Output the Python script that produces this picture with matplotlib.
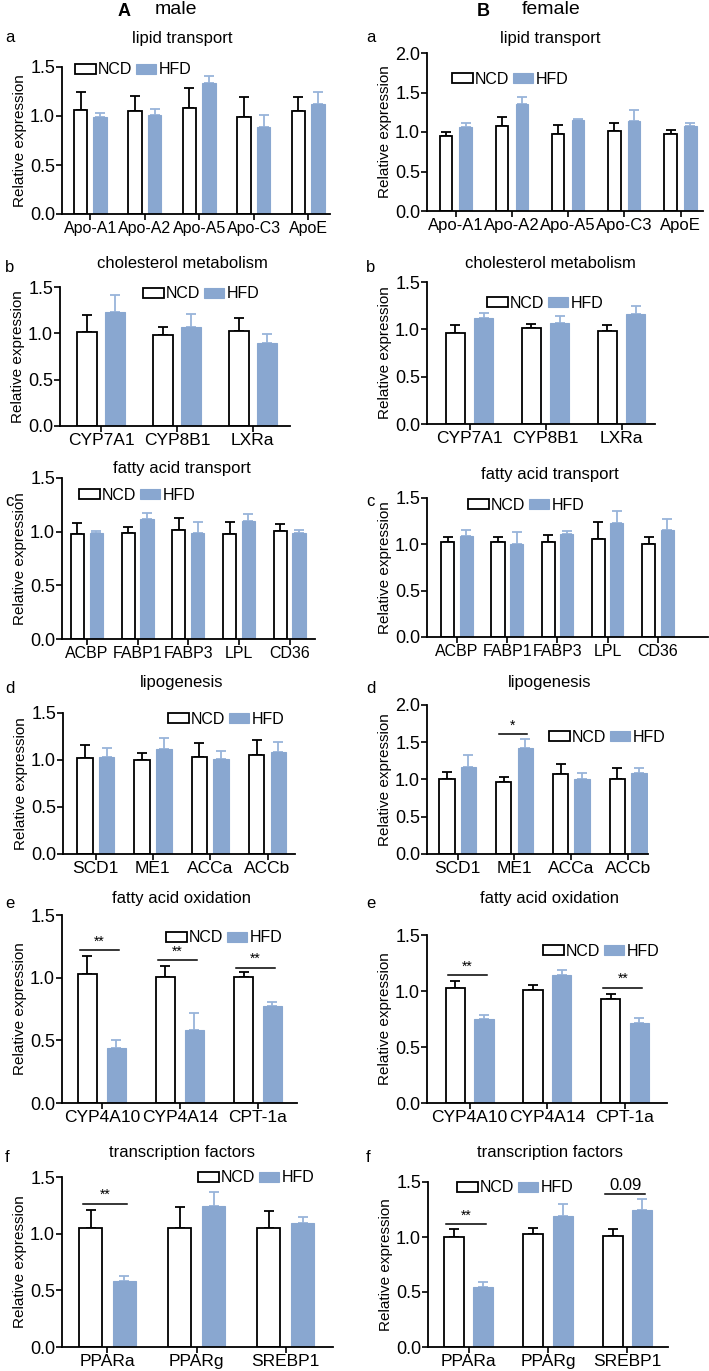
import numpy as np
import matplotlib.pyplot as plt
from matplotlib.ticker import MultipleLocator, FormatStrFormatter

plt.rcParams['font.family'] = ['Liberation Sans', 'DejaVu Sans']

W, H = 709, 1371
fig = plt.figure(figsize=(W / 100, H / 100), dpi=100)

hfd_color = '#89a7d0'

# ---------------- male ----------------
m_a_genes = ['Apo-A1', 'Apo-A2', 'Apo-A5', 'Apo-C3', 'ApoE']
m_a_ncd = [1.06, 1.05, 1.08, 0.99, 1.05]
m_a_ncd_err = [0.18, 0.15, 0.21, 0.20, 0.14]
m_a_hfd = [0.99, 1.01, 1.34, 0.89, 1.12]
m_a_hfd_err = [0.04, 0.06, 0.07, 0.12, 0.12]

m_b_genes = ['CYP7A1', 'CYP8B1', 'LXRa']
m_b_ncd = [1.01, 0.98, 1.03]
m_b_ncd_err = [0.19, 0.09, 0.14]
m_b_hfd = [1.23, 1.07, 0.90]
m_b_hfd_err = [0.18, 0.14, 0.09]

m_c_genes = ['ACBP', 'FABP1', 'FABP3', 'LPL', 'CD36']
m_c_ncd = [0.975, 0.985, 1.02, 0.98, 1.01]
m_c_ncd_err = [0.105, 0.055, 0.11, 0.11, 0.06]
m_c_hfd = [0.99, 1.12, 0.99, 1.10, 0.985]
m_c_hfd_err = [0.02, 0.05, 0.10, 0.06, 0.035]

m_d_genes = ['SCD1', 'ME1', 'ACCa', 'ACCb']
m_d_ncd = [1.025, 1.00, 1.03, 1.05]
m_d_ncd_err = [0.13, 0.07, 0.15, 0.165]
m_d_hfd = [1.035, 1.12, 1.01, 1.09]
m_d_hfd_err = [0.095, 0.11, 0.09, 0.10]

m_e_genes = ['CYP4A10', 'CYP4A14', 'CPT-1a']
m_e_ncd = [1.03, 1.005, 1.005]
m_e_ncd_err = [0.14, 0.085, 0.04]
m_e_hfd = [0.435, 0.58, 0.77]
m_e_hfd_err = [0.065, 0.135, 0.035]
m_e_sig = [(0, 1.22, '**'), (1, 1.14, '**'), (2, 1.08, '**')]

m_f_genes = ['PPARa', 'PPARg', 'SREBP1']
m_f_ncd = [1.05, 1.05, 1.05]
m_f_ncd_err = [0.155, 0.185, 0.15]
m_f_hfd = [0.58, 1.245, 1.095]
m_f_hfd_err = [0.05, 0.12, 0.055]
m_f_sig = [(0, 1.265, '**')]

# ---------------- female ----------------
f_a_ncd = [0.95, 1.07, 0.98, 1.01, 0.97]
f_a_ncd_err = [0.05, 0.12, 0.11, 0.10, 0.06]
f_a_hfd = [1.06, 1.35, 1.15, 1.14, 1.07]
f_a_hfd_err = [0.05, 0.09, 0.02, 0.14, 0.05]

f_b_ncd = [0.96, 1.01, 0.98]
f_b_ncd_err = [0.09, 0.05, 0.07]
f_b_hfd = [1.12, 1.07, 1.16]
f_b_hfd_err = [0.05, 0.07, 0.09]

f_c_ncd = [1.02, 1.02, 1.02, 1.06, 1.00]
f_c_ncd_err = [0.06, 0.06, 0.08, 0.18, 0.08]
f_c_hfd = [1.09, 1.00, 1.11, 1.23, 1.15]
f_c_hfd_err = [0.06, 0.13, 0.03, 0.13, 0.12]

f_d_ncd = [1.01, 0.97, 1.08, 1.00]
f_d_ncd_err = [0.09, 0.06, 0.125, 0.15]
f_d_hfd = [1.165, 1.42, 1.00, 1.09]
f_d_hfd_err = [0.165, 0.13, 0.09, 0.06]
f_d_sig = [(1, 1.61, '*')]

f_e_ncd = [1.03, 1.005, 0.925]
f_e_ncd_err = [0.06, 0.045, 0.045]
f_e_hfd = [0.75, 1.14, 0.715]
f_e_hfd_err = [0.04, 0.05, 0.045]
f_e_sig = [(0, 1.14, '**'), (2, 1.03, '**')]

f_f_ncd = [1.00, 1.03, 1.01]
f_f_ncd_err = [0.075, 0.05, 0.065]
f_f_hfd = [0.547, 1.19, 1.25]
f_f_hfd_err = [0.043, 0.11, 0.10]
f_f_sig = [(0, 1.12, '**'), (2, 1.39, '0.09')]

titles = ['lipid transport', 'cholesterol metabolism', 'fatty acid transport',
          'lipogenesis', 'fatty acid oxidation', 'transcription factors']
letters = ['a', 'b', 'c', 'd', 'e', 'f']


def px_axes(x0, y_top, x1, y_bot):
    # pixel box -> figure axes
    return fig.add_axes([x0 / W, 1 - y_bot / H, (x1 - x0) / W, (y_bot - y_top) / H])


def draw_panel(ax, genes, ncd, ncd_err, hfd, hfd_err, ymax, xlim, leg_px,
               sig=(), w=0.26, d=0.37, xfs=12.5):
    x = np.arange(len(genes))
    b1 = ax.bar(x - d / 2, ncd, w, color='white', edgecolor='black', linewidth=1.3,
                label='NCD', zorder=2)
    ax.errorbar(x - d / 2, ncd, yerr=[np.zeros(len(x)), ncd_err], fmt='none',
                ecolor='black', elinewidth=1.3, capsize=3.5, capthick=1.3, zorder=1)
    b2 = ax.bar(x + d / 2, hfd, w, color=hfd_color, edgecolor=hfd_color, linewidth=0.8,
                label='HFD', zorder=2)
    ax.errorbar(x + d / 2, hfd, yerr=[np.zeros(len(x)), hfd_err], fmt='none',
                ecolor='#98b4da', elinewidth=1.3, capsize=3.5, capthick=1.3, zorder=1)
    for i, yy, txt in sig:
        ax.plot([i - 0.28, i + 0.22], [yy, yy], color='black', lw=1.1)
        fs = 12 if txt[0].isdigit() else 10
        ax.annotate(txt, (i - 0.03, yy), xytext=(0, 1), textcoords='offset points',
                    ha='center', va='bottom', fontsize=fs)
    ax.set_xlim(*xlim)
    ax.set_ylim(0, ymax)
    ax.set_xticks(x)
    ax.set_xticklabels(genes, fontsize=xfs)
    ax.yaxis.set_major_locator(MultipleLocator(0.5))
    ax.yaxis.set_major_formatter(FormatStrFormatter('%.1f'))
    ax.tick_params(axis='y', labelsize=13, length=4, width=1.2, pad=1)
    ax.tick_params(axis='x', length=4, width=1.2, pad=1)
    ax.set_ylabel('Relative expression', fontsize=11, labelpad=2)
    for s in ['top', 'right']:
        ax.spines[s].set_visible(False)
    for s in ['left', 'bottom']:
        ax.spines[s].set_linewidth(1.3)
    ax.legend(handles=[b1, b2], loc='center left',
              bbox_to_anchor=(leg_px[0] / W, 1 - leg_px[1] / H),
              bbox_transform=fig.transFigure, ncol=2, frameon=False, fontsize=11.5,
              handlelength=1.3, handleheight=0.6, handletextpad=0.15,
              columnspacing=0.2, borderpad=0, borderaxespad=0)


male = [
    (m_a_genes, m_a_ncd, m_a_ncd_err, m_a_hfd, m_a_hfd_err, ()),
    (m_b_genes, m_b_ncd, m_b_ncd_err, m_b_hfd, m_b_hfd_err, ()),
    (m_c_genes, m_c_ncd, m_c_ncd_err, m_c_hfd, m_c_hfd_err, ()),
    (m_d_genes, m_d_ncd, m_d_ncd_err, m_d_hfd, m_d_hfd_err, ()),
    (m_e_genes, m_e_ncd, m_e_ncd_err, m_e_hfd, m_e_hfd_err, m_e_sig),
    (m_f_genes, m_f_ncd, m_f_ncd_err, m_f_hfd, m_f_hfd_err, m_f_sig),
]
female = [
    (m_a_genes, f_a_ncd, f_a_ncd_err, f_a_hfd, f_a_hfd_err, ()),
    (m_b_genes, f_b_ncd, f_b_ncd_err, f_b_hfd, f_b_hfd_err, ()),
    (m_c_genes, f_c_ncd, f_c_ncd_err, f_c_hfd, f_c_hfd_err, ()),
    (m_d_genes, f_d_ncd, f_d_ncd_err, f_d_hfd, f_d_hfd_err, f_d_sig),
    (m_e_genes, f_e_ncd, f_e_ncd_err, f_e_hfd, f_e_hfd_err, f_e_sig),
    (m_f_genes, f_f_ncd, f_f_ncd_err, f_f_hfd, f_f_hfd_err, f_f_sig),
]

# layout: axes box in pixels, y max, xlim, legend anchor, title y, letter y,
# bar width, bar offset, x label size
male_layout = [
    ((62, 67, 330, 214), 1.5, (-0.52, 4.4), (75, 70), 38, 38, 0.25, 0.36, 11.5),
    ((60, 287, 290, 426), 1.5, (-0.54, 2.49), (143, 294), 263, 268, 0.26, 0.37, 12.5),
    ((62, 478, 315, 639), 1.5, (-0.49, 4.5), (79, 495), 469, 502, 0.26, 0.37, 11.5),
    ((63, 713, 295, 854), 1.5, (-0.57, 3.48), (168, 719), 683, 688, 0.27, 0.38, 12.5),
    ((62, 915, 297, 1103), 1.5, (-0.51, 2.5), (166, 938), 898, 903, 0.25, 0.37, 12.5),
    ((62, 1177, 333, 1347), 1.5, (-0.51, 2.53), (198, 1178), 1153, 1158, 0.255, 0.38, 12.5),
]
female_layout = [
    ((427, 53, 703, 211), 2.0, (-0.51, 4.4), (452, 79), 38, 38, 0.22, 0.35, 12),
    ((427, 282, 655, 424), 1.5, (-0.56, 2.44), (487, 303), 263, 268, 0.26, 0.37, 12.5),
    ((427, 498, 708, 637), 1.5, (-0.6, 5.0), (468, 505), 475, 502, 0.26, 0.37, 11.5),
    ((427, 705, 648, 854), 2.0, (-0.54, 3.35), (549, 737), 683, 688, 0.27, 0.38, 12.5),
    ((427, 935, 667, 1103), 1.5, (-0.55, 2.54), (543, 951), 898, 903, 0.25, 0.37, 12.5),
    ((428, 1182, 668, 1347), 1.5, (-0.51, 2.51), (457, 1188), 1153, 1158, 0.25, 0.37, 12.5),
]

for data, layout, title_x, letter_x in [(male, male_layout, 182, 5),
                                        (female, female_layout, 550, 366)]:
    for k in range(6):
        genes, ncd, ncd_err, hfd, hfd_err, sig = data[k]
        box, ymax, xlim, leg, ty, ly, bw, bd, xfs = layout[k]
        ax = px_axes(*box)
        draw_panel(ax, genes, ncd, ncd_err, hfd, hfd_err, ymax, xlim, leg, sig, bw, bd, xfs)
        fig.text(title_x / W, 1 - ty / H, titles[k], ha='center', va='center', fontsize=12)
        fig.text(letter_x / W, 1 - ly / H, letters[k], ha='left', va='center', fontsize=12)

fig.text(124 / W, 1 - 11 / H, 'A', ha='center', va='center', fontsize=13, fontweight='bold')
fig.text(176 / W, 1 - 10 / H, 'male', ha='center', va='center', fontsize=14)
fig.text(483 / W, 1 - 11 / H, 'B', ha='center', va='center', fontsize=13, fontweight='bold')
fig.text(551 / W, 1 - 10 / H, 'female', ha='center', va='center', fontsize=14)

plt.savefig('out.png', dpi=100)
